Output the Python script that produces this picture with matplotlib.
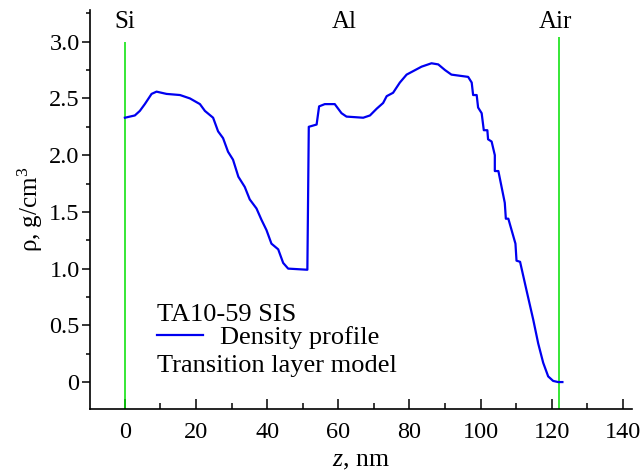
import matplotlib
matplotlib.use("Agg")
import matplotlib.pyplot as plt
from matplotlib.lines import Line2D
from matplotlib.ticker import MultipleLocator, FuncFormatter

# density profile
z = [0.0, 2.8, 4.2, 5.6, 7.5, 8.9, 11.7, 15.5, 18.3, 21.1, 22.5, 24.8, 26.2, 27.6,
     29.0, 30.4, 31.9, 33.7, 35.1, 37.0, 38.4, 39.8, 41.2, 43.1, 44.5, 45.9, 51.3,
     51.7, 53.9, 54.6, 56.2, 59.0, 60.9, 62.3, 67.0, 68.9, 70.8, 72.6, 73.6, 75.4,
     77.3, 79.2, 81.0, 83.4, 86.2, 88.1, 90.0, 91.8, 96.5, 97.5, 97.9, 98.9, 99.3,
     100.3, 100.9, 101.9, 102.1, 103.1, 104.0, 104.0, 105.0, 106.8, 107.1, 107.8,
     109.8, 110.1, 111.1, 112.9, 114.8, 116.2, 117.6, 119.0, 120.4, 121.8, 123.0]
rho = [2.33, 2.35, 2.39, 2.45, 2.54, 2.56, 2.54, 2.53, 2.50, 2.45, 2.39, 2.33, 2.21, 2.15,
       2.03, 1.96, 1.81, 1.72, 1.61, 1.53, 1.43, 1.34, 1.22, 1.17, 1.05, 1.00, 0.99,
       2.25, 2.27, 2.43, 2.45, 2.45, 2.37, 2.34, 2.33, 2.35, 2.41, 2.46, 2.52, 2.55,
       2.64, 2.71, 2.74, 2.78, 2.81, 2.80, 2.75, 2.71, 2.69, 2.64, 2.53, 2.53, 2.42,
       2.37, 2.22, 2.22, 2.14, 2.12, 2.00, 1.86, 1.86, 1.58, 1.44, 1.44,
       1.22, 1.07, 1.06, 0.81, 0.55, 0.34, 0.17, 0.05, 0.01, 0.0, 0.0]

layers = ["Si", "Al", "Air"]
layer_z = [0, 61.8, 121.0]
boundaries = [0.0, 122.0]
boundary_tops = [3.0, 3.04]

plt.rcParams["font.family"] = ["Liberation Serif", "DejaVu Serif"]
plt.rcParams["mathtext.fontset"] = "custom"
plt.rcParams["mathtext.rm"] = "Liberation Serif"
plt.rcParams["mathtext.it"] = "Liberation Serif:italic"

fig = plt.figure(figsize=(6.44, 4.74), dpi=100)
ax = fig.add_axes([0.1398, 0.137, 0.8412, 0.842])
ymin, ymax = -0.238, 3.28
ax.set_xlim(-9.8, 142.5)
ax.set_ylim(ymin, ymax)

ax.vlines(boundaries, ymin, boundary_tops, color="#00e000", lw=1.1)
ax.plot(z, rho, color="#0000f0", lw=1.6)
for name, zz in zip(layers, layer_z):
    ax.text(zz, 3.17, name, ha="center", va="center", fontsize=18)

for s in ("top", "right"):
    ax.spines[s].set_visible(False)
for s in ("left", "bottom"):
    ax.spines[s].set_linewidth(1.2)

ax.xaxis.set_major_locator(MultipleLocator(20))
ax.xaxis.set_minor_locator(MultipleLocator(10))
ax.yaxis.set_major_locator(MultipleLocator(0.5))
ax.yaxis.set_minor_locator(MultipleLocator(0.25))
ax.yaxis.set_major_formatter(FuncFormatter(lambda v, p: "0" if abs(v) < 1e-9 else f"{v:.1f}"))
ax.tick_params(axis="x", which="both", direction="in", labelsize=17.5, width=1.1, pad=9)
ax.tick_params(axis="x", which="major", length=7)
ax.tick_params(axis="x", which="minor", length=4)
ax.tick_params(axis="y", which="both", direction="out", labelsize=17.5, width=1.1, pad=2)
ax.tick_params(axis="y", which="major", length=5.5)
ax.tick_params(axis="y", which="minor", length=3)

ax.set_xlabel("$z$, nm", fontsize=18.5, labelpad=5)
ax.set_ylabel("ρ, g/cm$^3$", fontsize=18, labelpad=3)

ax.text(0.1236, 0.2213, "TA10-59 SIS", transform=ax.transAxes, fontsize=19, va="baseline")
ax.text(0.1236, 0.0935, "Transition layer model", transform=ax.transAxes, fontsize=19, va="baseline")
leg = ax.legend([Line2D([], [], color="#0000f0", lw=1.6)], ["Density profile"],
                loc="center left", bbox_to_anchor=(0.1236, 0.1805), frameon=False,
                fontsize=19, handlelength=1.74, handletextpad=0.64, borderpad=0,
                borderaxespad=0)

fig.savefig("out.png", dpi=100)
